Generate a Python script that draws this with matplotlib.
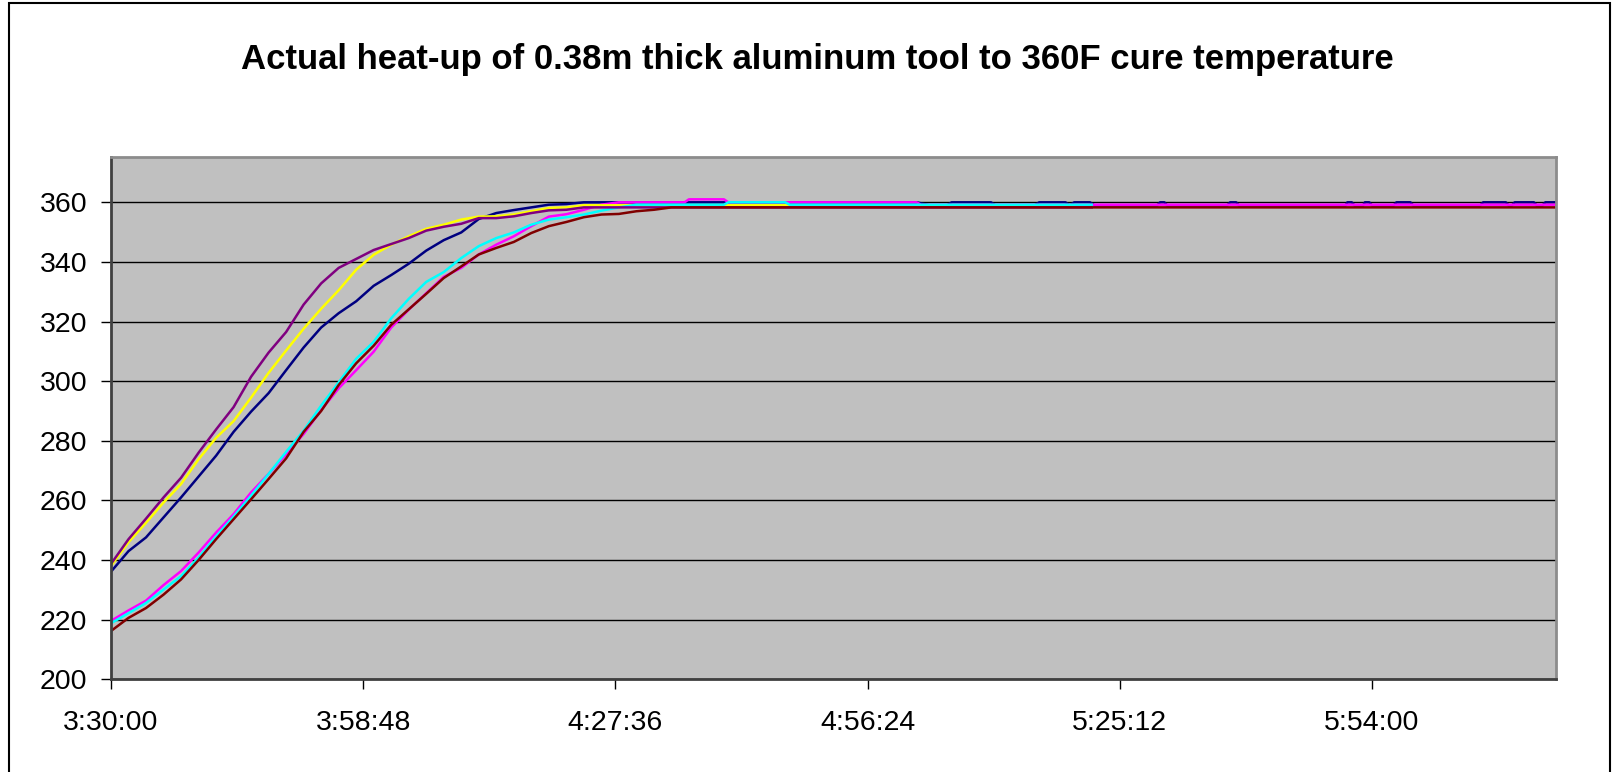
import matplotlib
matplotlib.use("Agg")
from matplotlib import pyplot as plt
from matplotlib.patches import Rectangle
from matplotlib.ticker import FuncFormatter
import numpy as np

# minutes after 3:30:00
ramp_t = [0, 2, 4, 6, 8, 10, 12, 14, 16, 18, 20, 22, 24, 26, 28, 30,
          32, 34, 36, 38, 40, 42, 44, 46, 48, 50, 52, 54, 56, 58, 60]

navy_v = [236.1, 243.0, 247.6, 254.3, 261.0, 268.0, 275.0, 283.0, 289.8, 296.0, 303.7,
          311.3, 318.0, 322.8, 326.8, 332.0, 335.6, 339.4, 343.8, 347.3, 349.9,
          354.4, 356.4, 357.4, 358.3, 359.2, 359.4, 360, 360, 360, 360]
magenta_v = [219.6, 223.1, 226.4, 231.6, 236.3, 242.5, 249.2, 255.4, 262.7, 268.9, 275.5,
             282.3, 290.3, 297.6, 303.7, 309.9, 318.0, 324.0, 329.5, 335.0, 338.0,
             342.5, 345.8, 348.6, 352.0, 355.2, 356.0, 357.5, 359.2, 360, 360]
yellow_v = [238.0, 246.0, 252.5, 259.3, 265.5, 273.8, 281.0, 286.6, 294.5, 302.8, 310.3,
            317.6, 324.3, 330.5, 337.4, 342.4, 345.8, 348.6, 351.1, 352.5, 354.2,
            355.2, 355.3, 355.9, 357.0, 358.1, 358.3, 359, 359, 359, 359]
cyan_v = [218.8, 222.2, 225.6, 230.1, 234.6, 240.8, 247.9, 254.6, 261.6, 268.9, 276.3,
          283.4, 291.8, 299.6, 307.5, 313.2, 321.1, 327.6, 333.3, 336.6, 341.3,
          345.3, 348.0, 349.9, 352.5, 354.2, 355.0, 355.9, 357.2, 358.3, 359.2]
purple_v = [238.7, 247.0, 253.9, 261.0, 267.6, 276.0, 283.8, 291.3, 301.5, 309.6, 316.5,
            325.7, 332.8, 338.0, 341.0, 344.0, 346.0, 348.0, 350.5, 351.8, 352.8,
            354.7, 354.7, 355.3, 356.4, 357.3, 357.5, 358.3, 358.3, 358.3, 358.3]
maroon_v = [216.2, 220.6, 223.9, 228.4, 233.5, 240.0, 247.0, 253.7, 260.4, 267.2, 274.1,
            283.0, 290.0, 298.7, 306.0, 311.9, 318.9, 324.1, 329.3, 334.6, 338.5,
            342.5, 344.7, 346.7, 349.7, 352.0, 353.4, 355.0, 355.9, 356.1, 357.0]

# flat part after 60 min
navy_tail_t = [90, 92, 93.5, 95.5, 96, 100.5, 101, 105.5, 106, 109, 109.5, 110, 111.8, 112.3,
               119.5, 119.8, 120.3, 120.6, 127.5, 127.8, 128.5, 128.8, 141, 141.2, 141.7, 142,
               143, 143.2, 143.7, 144, 146.5, 146.8, 148.4, 148.7, 156.4, 156.7, 159.3, 159.6,
               160, 160.3, 162.5, 162.8, 163.5, 163.8, 165]
navy_tail_v = [360, 360, 359, 359, 360, 360, 359, 359, 360, 360, 359, 360, 360, 359,
               359, 360, 360, 359, 359, 360, 360, 359, 359, 360, 360, 359,
               359, 360, 360, 359, 359, 360, 360, 359, 359, 360, 360, 359,
               359, 360, 360, 359, 359, 360, 360]
magenta_tail_t = [65.5, 66, 70, 70.5, 92, 92.5, 165]
magenta_tail_v = [360, 361, 361, 360, 360, 359.2, 359.2]
yellow_tail_t = [110]
yellow_tail_v = [359]
cyan_tail_t = [62, 70, 70.5, 77, 77.5, 112]
cyan_tail_v = [359.2, 359.2, 360, 360, 359.2, 359.2]
purple_tail_t = [112]
purple_tail_v = [358.3]
maroon_tail_t = [62, 64, 165]
maroon_tail_v = [357.5, 358.3, 358.3]

series = [
    ('navy', '#000080', navy_v, navy_tail_t, navy_tail_v),
    ('magenta', '#FF00FF', magenta_v, magenta_tail_t, magenta_tail_v),
    ('yellow', '#FFFF00', yellow_v, yellow_tail_t, yellow_tail_v),
    ('cyan', '#00FFFF', cyan_v, cyan_tail_t, cyan_tail_v),
    ('purple', '#800080', purple_v, purple_tail_t, purple_tail_v),
    ('maroon', '#800000', maroon_v, maroon_tail_t, maroon_tail_v),
]

start_min = 3 * 60 + 30
x_end_min = 165


def to_days(minutes):
    return (start_min + np.asarray(minutes, dtype=float)) / 1440.0


def fmt_time(x, pos):
    secs = int(round(x * 86400))
    return f"{secs // 3600}:{secs % 3600 // 60:02d}:{secs % 60:02d}"


plt.rcParams['font.family'] = ['Liberation Sans', 'DejaVu Sans']

fig = plt.figure(figsize=(16.18, 7.72), dpi=100)
ax = fig.add_axes([111 / 1618, 1 - 679.3 / 772, (1555.8 - 111) / 1618, (679.3 - 156.7) / 772])
ax.set_facecolor('#C0C0C0')

for name, color, ramp_v, tail_t, tail_v in series:
    t = ramp_t + tail_t
    v = ramp_v + tail_v
    ax.plot(to_days(t), v, color=color, lw=1.8, solid_joinstyle='round')

ax.set_xlim(to_days(0), to_days(x_end_min))
ax.set_ylim(200, 375.3)
ax.set_xticks(to_days(0) + 0.02 * np.arange(6))
ax.xaxis.set_major_formatter(FuncFormatter(fmt_time))
ax.set_yticks(np.arange(200, 361, 20))
ax.yaxis.grid(True, color='black', lw=1)
ax.set_axisbelow(True)

ax.tick_params(axis='both', direction='out', length=7, width=1, labelsize=20.5, colors='black')
ax.tick_params(axis='y', pad=10)
ax.tick_params(axis='x', pad=15)

for side in ['left', 'bottom']:
    ax.spines[side].set_color('#404040')
    ax.spines[side].set_linewidth(2)
for side in ['top', 'right']:
    ax.spines[side].set_color('#8C8C8C')
    ax.spines[side].set_linewidth(2)

fig.text(0.505, 1 - 59 / 772, 'Actual heat-up of 0.38m thick aluminum tool to 360F cure temperature',
         ha='center', va='center', fontsize=25, fontweight='bold')

# chart area border (bottom edge runs off the image)
fig.patches.append(Rectangle((9 / 1618, -0.02), (1610 - 9) / 1618, 1 - 3 / 772 + 0.02,
                             transform=fig.transFigure, fill=False, edgecolor='black', lw=1.5))

fig.savefig('out.png', dpi=100, facecolor='white')
